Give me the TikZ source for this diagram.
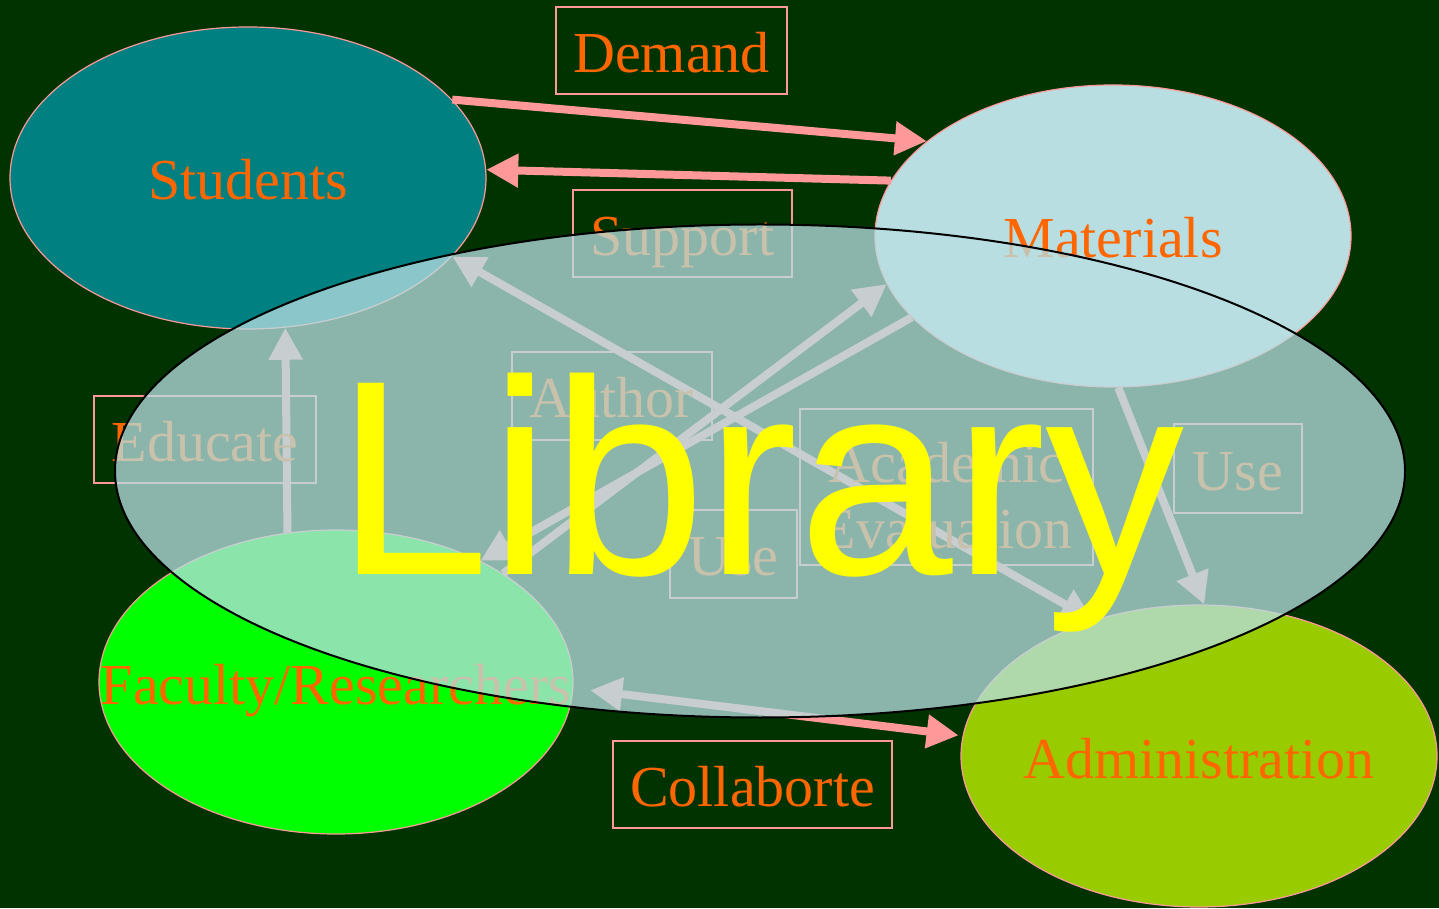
\documentclass[tikz,border=0pt]{standalone}
\usepackage{fontspec}
\setmainfont{Liberation Serif}
\newfontfamily\libfont{Liberation Sans}
\usetikzlibrary{shapes.geometric,arrows.meta,calc}
\definecolor{bg}{HTML}{003300}
\definecolor{pinkc}{HTML}{FF9999}
\definecolor{orng}{HTML}{FF6600}
\definecolor{tealc}{HTML}{008080}
\definecolor{lblue}{HTML}{B8DEE2}
\definecolor{fgreen}{HTML}{00FF00}
\definecolor{agreen}{HTML}{99CC00}
\definecolor{yel}{HTML}{FFFF00}
\newcommand{\zw}[1]{\makebox[0pt]{#1}}
\begin{document}
\begin{tikzpicture}[x=1pt,y=1pt,
  ell/.style={ellipse, draw=pinkc, line width=1.2pt, inner sep=0pt,
    minimum width=476pt, minimum height=302pt, text=orng,
    font=\fontsize{58}{60}\selectfont, text height=46pt, text depth=2pt},
  lbl/.style={draw=pinkc, line width=1.5pt, inner sep=0pt, text=orng,
    font=\fontsize{58}{60}\selectfont, text height=46pt, text depth=2pt},
  lbltwo/.style={draw=pinkc, line width=1.5pt, inner sep=0pt, text=orng,
    align=center, font=\fontsize{58}{66}\selectfont},
  conn/.style={pinkc, line width=8pt, -{Triangle[length=32pt,width=32pt]}},
  conntwo/.style={pinkc, line width=8pt, {Triangle[length=32pt,width=32pt]}-{Triangle[length=32pt,width=32pt]}}]
\fill[bg] (0,0) rectangle (1439,908);
\useasboundingbox (0,0) rectangle (1439,908);
% entity nodes
\node[ell, fill=tealc] (st) at (248,730) {\zw{Students}};
\node[ell, fill=lblue] (ma) at (1113,672) {\zw{Materials}};
\node[ell, fill=fgreen, minimum width=474pt, minimum height=304pt] (fa) at (336,226) {\zw{Faculty/Researchers}};
\node[ell, fill=agreen] (ad) at (1199,152) {\zw{Administration}};
% connectors
\draw[conn] (st.21) -- (ma.153);
\draw[conn] (ma.166.6) -- (st.2);
\draw[conn] (fa.108.5) -- (st.-76);
\draw[conn] (fa.33) -- (ma.192.7);
\draw[conn] (ma.202) -- (fa.40);
\draw[conntwo] (st.-21.9) -- (ad.128);
\draw[conn] (ma.-88) -- (ad.88);
\draw[conntwo] ($(fa.-2)+(17,0)$) -- ($(ad.175.5)+(-4,0)$);
% labels
\node[lbl, minimum width=231pt, minimum height=87pt] (ldem) at (671.5,857.5) {Demand};
\node[lbl, minimum width=219pt, minimum height=87pt] (lsup) at (682.5,674.5) {Support};
\node[lbl, minimum width=222pt, minimum height=87pt] (ledu) at (205,468.5) {Educate};
\node[lbl, minimum width=200pt, minimum height=88pt] (laut) at (612,512) {Author};
\node[lbl, minimum width=127pt, minimum height=88pt] (luse) at (733.5,354) {Use};
\node[lbltwo, minimum width=293pt, minimum height=156pt] (lacad) at (946.5,421) {\rule{0pt}{58pt}Academic\\Evaluation};
\node[lbl, minimum width=128pt, minimum height=89pt] (luse2) at (1238,439.5) {Use};
\node[lbl, minimum width=279pt, minimum height=87pt] (lcol) at (752.5,123.5) {Collaborte};
% library overlay
\node[ellipse, draw=black, line width=2pt, fill=lblue, fill opacity=0.76,
  text opacity=1, text=yel, inner sep=0pt,
  minimum width=1290pt, minimum height=493pt,
  font=\libfont\fontsize{278}{280}\selectfont, text height=220pt, text depth=12pt]
  (lib) at (760,437) {\zw{Library}};
\end{tikzpicture}
\end{document}
